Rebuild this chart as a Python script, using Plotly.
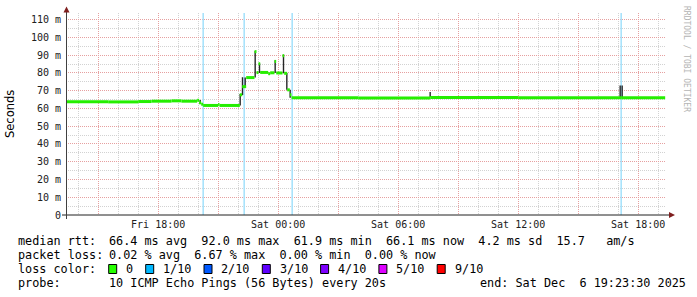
import plotly.graph_objects as go

# ---------------- data ----------------
median_time = [
    "2025-12-05 13:23:30", "2025-12-05 15:30", "2025-12-05 17:00", "2025-12-05 17:40",
    "2025-12-05 18:40", "2025-12-05 19:10", "2025-12-05 19:57", "2025-12-05 20:03",
    "2025-12-05 20:09", "2025-12-05 20:15", "2025-12-05 21:00", "2025-12-05 21:04",
    "2025-12-05 22:05", "2025-12-05 22:12", "2025-12-05 22:24", "2025-12-05 22:49",
    "2025-12-05 22:55", "2025-12-05 23:01", "2025-12-05 23:06", "2025-12-05 23:30",
    "2025-12-05 23:36", "2025-12-05 23:49", "2025-12-05 23:54", "2025-12-06 00:13",
    "2025-12-06 00:18", "2025-12-06 00:27", "2025-12-06 00:35", "2025-12-06 00:40",
    "2025-12-06 04:00", "2025-12-06 07:36", "2025-12-06 12:00", "2025-12-06 17:09",
    "2025-12-06 19:21",
]
median_ms = [
    63.8, 63.7, 63.9, 64.1,
    64.3, 64.1, 64.6, 63.2,
    62.4, 61.7, 62.3, 61.7,
    67.7, 72.3, 77.4, 92.0,
    80.2, 85.2, 80.3, 79.6,
    80.1, 86.5, 80.0, 89.7,
    79.8, 70.5, 67.7, 66.0,
    65.9, 66.2, 66.1, 66.1,
    66.1,
]

smoke_time = [
    "2025-12-05 20:06", "2025-12-05 22:06", "2025-12-05 22:13", "2025-12-05 22:21",
    "2025-12-05 22:51", "2025-12-05 23:04", "2025-12-05 23:51", "2025-12-06 00:16",
    "2025-12-06 00:26", "2025-12-06 00:36", "2025-12-06 07:36", "2025-12-06 17:06",
    "2025-12-06 17:12",
]
smoke_lo_ms = [62.5, 61.7, 67.5, 72.2, 77.4, 80.0, 80.0, 79.8, 70.5, 66.0, 66.4, 66.0, 66.0]
smoke_hi_ms = [64.8, 68.2, 77.6, 77.5, 92.3, 85.5, 87.2, 90.3, 80.0, 70.5, 69.3, 72.9, 72.9]

loss_time = ["2025-12-05 20:15", "2025-12-05 22:18", "2025-12-06 00:42", "2025-12-06 17:09"]

x_tick_vals = [
    "2025-12-05 15:00", "2025-12-05 18:00", "2025-12-05 21:00", "2025-12-06 00:00",
    "2025-12-06 03:00", "2025-12-06 06:00", "2025-12-06 09:00", "2025-12-06 12:00",
    "2025-12-06 15:00", "2025-12-06 18:00",
]
x_tick_text = ["", "Fri 18:00", "", "Sat 00:00", "", "Sat 06:00", "", "Sat 12:00", "", "Sat 18:00"]

y_tick_vals = [0, 10, 20, 30, 40, 50, 60, 70, 80, 90, 100, 110]
y_tick_text = ["0", "10 m", "20 m", "30 m", "40 m", "50 m", "60 m", "70 m", "80 m", "90 m", "100 m", "110 m"]

time_start = "2025-12-05 13:23:30"
time_end = "2025-12-06 19:23:30"

stats_rtt_label = "median rtt:"
stats_rtt = "66.4 ms avg  92.0 ms max  61.9 ms min  66.1 ms now  4.2 ms sd  15.7   am/s"
stats_loss_label = "packet loss:"
stats_loss = "0.02 % avg  6.67 % max  0.00 % min  0.00 % now"
loss_color_label = "loss color:"
loss_levels = ["0", "1/10", "2/10", "3/10", "4/10", "5/10", "9/10"]
loss_colors = ["#26ff00", "#00b8ff", "#0059ff", "#5e00ff", "#7e00ff", "#dd00ff", "#ff0000"]
probe_label = "probe:"
probe_text = "10 ICMP Echo Pings (56 Bytes) every 20s"
end_text = "end: Sat Dec  6 19:23:30 2025"
watermark = "RRDTOOL / TOBI OETIKER"
y_title = "Seconds"

# ---------------- geometry / style ----------------
W, H = 697, 297
PL, PR, PT, PB = 66, 666, 13, 215
Y_MAX = (PB - PT) / 1.7755
MONO = "DejaVu Sans Mono"
FS = 11.8
CW = 7.1


def px(x):
    return (x - PL) / (PR - PL)


def py(y):
    return (PB - y) / (PB - PT)


def nb(s):
    return s.replace(" ", "\u00a0")


fig = go.Figure()

# loss markers
lx, ly = [], []
for t in loss_time:
    lx += [t, t, None]
    ly += [0, Y_MAX, None]
fig.add_trace(go.Scatter(x=lx, y=ly, mode="lines", line=dict(color="#a2e1fb", width=1.5),
                         hoverinfo="skip", showlegend=False))

# smoke
sx, sy = [], []
for t, lo, hi in zip(smoke_time, smoke_lo_ms, smoke_hi_ms):
    sx += [t, t, None]
    sy += [lo, hi, None]
fig.add_trace(go.Scatter(x=sx, y=sy, mode="lines", line=dict(color="#262626", width=1.4),
                         hoverinfo="skip", showlegend=False))

# median band: one horizontal piece per step
mx, my = [], []
for i in range(len(median_time) - 1):
    mx += [median_time[i], median_time[i + 1], None]
    my += [median_ms[i], median_ms[i], None]
fig.add_trace(go.Scatter(x=mx, y=my, mode="lines",
                         line=dict(color="#26ee00", width=3), showlegend=False))

annotations = []
shapes = []

# axis lines + arrows
shapes.append(dict(type="line", xref="paper", yref="paper", x0=px(62), x1=px(670), y0=py(215), y1=py(215),
                   line=dict(color="#202020", width=1)))
shapes.append(dict(type="line", xref="paper", yref="paper", x0=px(66.5), x1=px(66.5), y0=py(219), y1=py(11),
                   line=dict(color="#404040", width=1)))
shapes.append(dict(type="path", xref="paper", yref="paper",
                   path="M {} {} L {} {} L {} {} Z".format(px(66.5), py(6.5), px(63.5), py(12.5), px(69.5), py(12.5)),
                   fillcolor="#7f1f1f", line=dict(color="#7f1f1f", width=0)))
shapes.append(dict(type="path", xref="paper", yref="paper",
                   path="M {} {} L {} {} L {} {} Z".format(px(675), py(215), px(669), py(212), px(669), py(218)),
                   fillcolor="#7f1f1f", line=dict(color="#7f1f1f", width=0)))


def txt(x, y, s, size=FS, color="#000000", family=MONO, angle=0, xanchor="left"):
    annotations.append(dict(x=px(x), y=py(y), xref="paper", yref="paper", text=nb(s), showarrow=False,
                            xanchor=xanchor, yanchor="middle", textangle=angle,
                            font=dict(family=family, size=size, color=color)))


VX = 106.7
txt(16.2, 241, stats_rtt_label)
txt(VX, 241, stats_rtt)
txt(16.2, 255, stats_loss_label)
txt(VX, 255, stats_loss)
txt(16.2, 269, loss_color_label)
sxp = 108.7
for lab, col in zip(loss_levels, loss_colors):
    shapes.append(dict(type="rect", xref="paper", yref="paper", x0=px(sxp), x1=px(sxp + 8),
                       y0=py(273.5), y1=py(264.5), fillcolor=col, line=dict(color="#000000", width=1)))
    txt(sxp + 15.3, 269, lab)
    sxp = sxp + 15.3 + len(lab) * CW + 14.6
txt(16.2, 283, probe_label)
txt(VX, 283, probe_text)
txt(478.3, 283, end_text)

txt(686, 59, watermark, size=8, color="#b4b4b4", angle=90, xanchor="center")
annotations.append(dict(x=px(10), y=py(114), xref="paper", yref="paper", text=y_title, showarrow=False,
                        xanchor="center", yanchor="middle", textangle=-90,
                        font=dict(family="DejaVu Sans", size=11.5, color="#000000")))

fig.update_layout(
    width=W, height=H, autosize=False,
    margin=dict(l=PL, r=W - PR, t=PT, b=H - PB),
    paper_bgcolor="#ffffff", plot_bgcolor="#ffffff",
    showlegend=False,
    shapes=shapes, annotations=annotations,
    xaxis=dict(
        type="date", range=[time_start, time_end],
        tickmode="array", tickvals=x_tick_vals, ticktext=x_tick_text,
        showgrid=True, gridcolor="#e6a0a0", griddash="1px,1px", gridwidth=1,
        zeroline=False, showline=False, ticks="", ticklabelstandoff=2,
        tickfont=dict(family=MONO, size=10, color="#202020"),
        minor=dict(tickmode="linear", tick0="2025-12-05 00:00", dtick=3600000, showgrid=True,
                   gridcolor="#d2d2d2", griddash="1px,1px", gridwidth=1, ticks=""),
    ),
    yaxis=dict(
        range=[0, Y_MAX], tickmode="array", tickvals=y_tick_vals, ticktext=y_tick_text,
        showgrid=True, gridcolor="#e6a0a0", griddash="1px,1px", gridwidth=1,
        zeroline=False, showline=False, ticks="", ticklabelstandoff=4,
        tickfont=dict(family=MONO, size=10, color="#202020"),
        minor=dict(tickmode="linear", tick0=0, dtick=5, showgrid=True,
                   gridcolor="#d2d2d2", griddash="1px,1px", gridwidth=1, ticks=""),
    ),
)

fig.write_html("out.html")
